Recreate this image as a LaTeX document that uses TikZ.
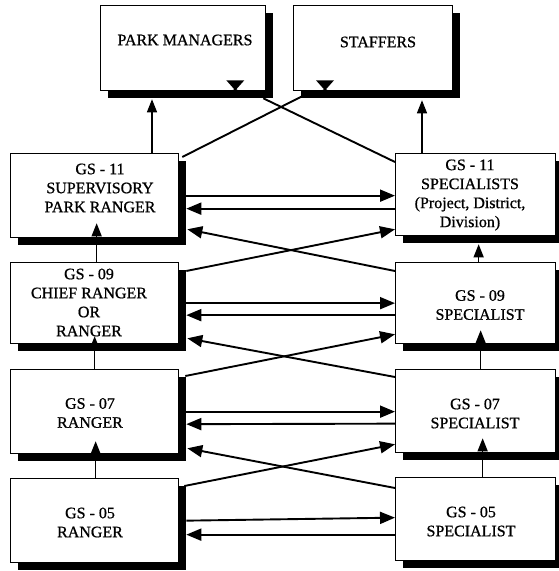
\documentclass[tikz,border=0pt]{standalone}
\usepackage{fontspec}
\setmainfont{Liberation Serif}
\newfontfamily\diagfont[FakeBold=0.8]{Liberation Serif}
\usetikzlibrary{arrows.meta,shadows,calc}
\begin{document}
\begin{tikzpicture}[x=1pt,y=1pt,
  box/.style={draw=black, line width=1.3pt, fill=white, rectangle, inner sep=0pt, anchor=north west,
    drop shadow={shadow xshift=7pt, shadow yshift=-7pt, opacity=1, fill=black}},
  lbl/.style={font=\diagfont\fontsize{16}{19}\selectfont, align=center, inner sep=0pt},
  arr/.style={line width=1.9pt, -{Triangle[length=15pt,width=12pt]}},
  varr/.style={line width=1.3pt, -{Triangle[length=13pt,width=10pt]}},
  ln/.style={line width=1.9pt}]
\useasboundingbox (0,0) rectangle (558,-571);
\fill[white] (0,0) rectangle (558,-571);
% boxes
\node[box, minimum width=165pt, minimum height=85pt] (PM) at (100,-5) {};
\node[box, minimum width=159pt, minimum height=85pt] (ST) at (293,-5) {};
\node[box, minimum width=168pt, minimum height=84pt] (L11) at (10,-153) {};
\node[box, minimum width=168pt, minimum height=81pt] (L09) at (10,-262) {};
\node[box, minimum width=168pt, minimum height=84pt] (L07) at (10,-369) {};
\node[box, minimum width=168pt, minimum height=84pt] (L05) at (10,-478) {};
\node[box, minimum width=160pt, minimum height=82pt] (R11) at (395,-153) {};
\node[box, minimum width=160pt, minimum height=81pt] (R09) at (395,-262) {};
\node[box, minimum width=160pt, minimum height=83pt] (R07) at (395,-369) {};
\node[box, minimum width=160pt, minimum height=83pt] (R05) at (395,-477) {};
% texts
\node[lbl] (tPM) at (185,-40) {PARK MANAGERS};
\node[lbl] (tST) at (378,-42) {STAFFERS};
\node[lbl] (tL11) at (100,-188) {GS - 11\\SUPERVISORY\\PARK RANGER};
\node[lbl] (tL09) at (89,-302.5) {GS - 09\\CHIEF RANGER\\OR\\RANGER};
\node[lbl] (tL07) at (90,-413) {GS - 07\\RANGER};
\node[lbl] (tL05) at (90,-522.5) {GS - 05\\RANGER};
\node[lbl] (tR11) at (470,-195) {GS - 11\\SPECIALISTS\\(Project, District,\\Division)};
\node[lbl] (tR09) at (480,-305) {GS - 09\\SPECIALIST};
\node[lbl] (tR07) at (475,-413.5) {GS - 07\\SPECIALIST};
\node[lbl] (tR05) at (471,-521.5) {GS - 05\\SPECIALIST};
% vertical arrows
\coordinate (xa) at (152,0);
\coordinate (xb) at (422,0);
\draw[varr] (L11.north -| xa) -- ($(PM.south -| xa)+(0,-8)$);
\draw[varr] (R11.north -| xb) -- ($(ST.south -| xb)+(0,-9)$);
\draw[varr] ($(L09.north)+(2,0)$) -- ($(L11.south)+(2,15)$);
\draw[varr] (L07.north) -- ($(L09.south)+(0,8)$);
\draw[varr] ($(L05.north)+(1,0)$) -- ($(L07.south)+(1,13)$);
\draw[varr] ($(R09.north)+(3,0)$) -- ($(R11.south)+(3,-8)$);
\draw[varr] ($(R07.north)+(5,0)$) -- ($(R09.south)+(5,14)$);
\draw[varr] ($(R05.north)+(7,0)$) -- ($(R07.south)+(7,15)$);
% top diagonals and markers
\draw[ln] ([xshift=3pt,yshift=-4pt]L11.north east) -- ([xshift=9pt,yshift=-5pt]ST.south west);
\draw[ln] ([yshift=-9pt]R11.north west) -- ([xshift=-3pt,yshift=-7pt]PM.south east);
\fill ([xshift=-40pt,yshift=11pt]PM.south east) -- ([xshift=-22pt,yshift=11pt]PM.south east)
  -- ([xshift=-30pt,yshift=2pt]PM.south east) -- ([xshift=-26pt]PM.south east)
  -- ([xshift=-36pt]PM.south east) -- ([xshift=-32pt,yshift=2pt]PM.south east) -- cycle;
\fill ([xshift=23pt,yshift=11pt]ST.south west) -- ([xshift=41pt,yshift=11pt]ST.south west)
  -- ([xshift=33pt,yshift=2pt]ST.south west) -- ([xshift=37pt]ST.south west)
  -- ([xshift=27pt]ST.south west) -- ([xshift=31pt,yshift=2pt]ST.south west) -- cycle;
% horizontal arrows
\draw[arr] ([xshift=7pt]L11.east) -- ([yshift=-1pt]R11.west);
\draw[arr] ([yshift=-14pt]R11.west) -- ([xshift=7pt,yshift=-13pt]L11.east);
\draw[arr] ([xshift=7pt]L09.east) -- (R09.west);
\draw[arr] ([yshift=-12pt]R09.west) -- ([xshift=7pt,yshift=-12pt]L09.east);
\draw[arr] ([xshift=7pt]L07.east) -- ([yshift=-0.5pt]R07.west);
\draw[arr] ([yshift=-12.5pt]R07.west) -- ([xshift=7pt,yshift=-12.5pt]L07.east);
\draw[arr] ([xshift=7pt]L05.east) -- ([yshift=1.5pt]R05.west);
\draw[arr] ([yshift=-15.5pt]R05.west) -- ([xshift=7pt,yshift=-14pt]L05.east);
% crossing diagonals
\draw[arr] ([xshift=7pt,yshift=-9pt]L09.north east) -- ([yshift=7pt]R11.south west);
\draw[arr] ([yshift=-9pt]R09.north west) -- ([xshift=8pt,yshift=9pt]L11.south east);
\draw[arr] ([xshift=6pt,yshift=-7pt]L07.north east) -- ([yshift=10pt]R09.south west);
\draw[arr] ([yshift=-8pt]R07.north west) -- ([xshift=8pt,yshift=6pt]L09.south east);
\draw[arr] ([xshift=5pt,yshift=-8pt]L05.north east) -- ([yshift=9pt]R07.south west);
\draw[arr] ([yshift=-11pt]R05.north west) -- ([xshift=8pt,yshift=6pt]L07.south east);
\end{tikzpicture}
\end{document}
